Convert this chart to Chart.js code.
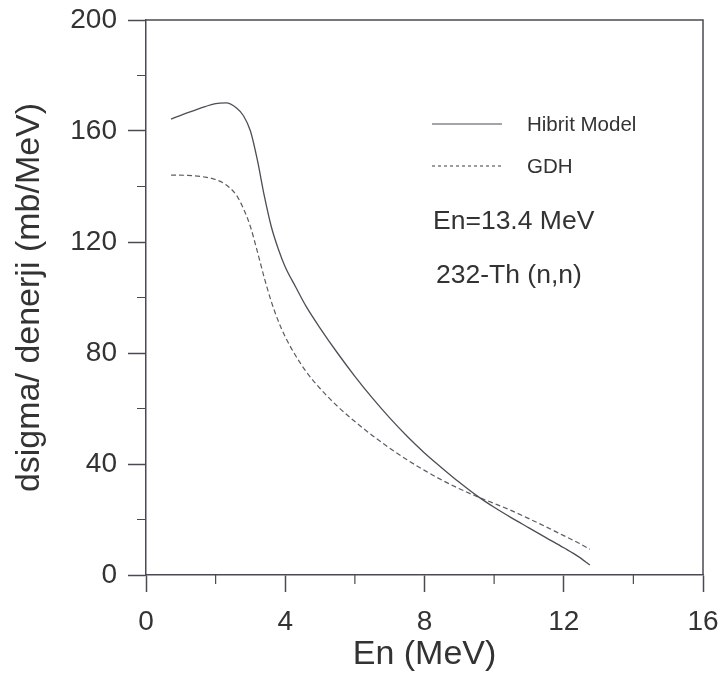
<!DOCTYPE html>
<html>
<head>
<meta charset="utf-8">
<title>232-Th (n,n) — dsigma/denerji</title>
<script src="https://cdn.jsdelivr.net/npm/chart.js@4.4.1/dist/chart.umd.min.js"></script>
<style>
  html, body { margin: 0; padding: 0; background: #ffffff; }
  #wrap { width: 723px; height: 678px; position: relative; }
  canvas { display: block; }
</style>
</head>
<body>
<div id="wrap"><canvas id="c" width="723" height="678"></canvas></div>
<script>
// Emission energy grid (MeV)
const energies = [0.72, 1.2, 1.7, 2.0, 2.3, 2.6, 2.8, 3.0, 3.2, 3.4, 3.6, 3.8, 4.0, 4.3, 4.6, 5.0, 5.5,
                  6.0, 6.5, 7.0, 7.5, 8.0, 8.5, 9.0, 9.5, 10.0, 10.5, 11.0, 11.5, 12.0, 12.4, 12.75];

// Hibrit Model spectrum (mb/MeV)
const hibritModel = [164.3, 166.6, 168.8, 169.9, 170.1, 168.3, 165.5, 160.0, 149.5, 136.5, 125.5, 117.5, 111.0, 103.8, 96.8, 89.0, 80.0,
                     71.6, 63.8, 56.6, 50.0, 44.0, 38.6, 33.4, 28.6, 24.4, 20.6, 17.0, 13.4, 9.8, 6.8, 3.6];

// GDH spectrum (mb/MeV)
const gdh = [144.1, 144.0, 143.4, 142.5, 140.6, 136.8, 132.0, 125.5, 116.5, 107.0, 98.5, 91.5, 85.8, 79.0, 73.3, 67.2, 60.8,
             55.3, 50.3, 45.7, 41.5, 37.7, 34.2, 31.1, 28.3, 25.8, 23.2, 20.3, 17.3, 14.2, 11.7, 9.3];

// Axis ticks
const xTicks = [0, 4, 8, 12, 16];
const yTicks = [0, 40, 80, 120, 160, 200];

// Notes printed inside the plot
const noteLines = ['En=13.4 MeV', '232-Th (n,n)'];

const FONT = '"Liberation Sans", Arial, Helvetica, sans-serif';
const AXIS = '#4a4a52';
const INK = '#333333';

const toPoints = (xs, ys) => xs.map((x, i) => ({ x: x, y: ys[i] }));

// Minor ticks halfway between the labelled ones, plus the top and right frame lines
const framePlugin = {
  id: 'frame',
  afterDraw(chart) {
    const { ctx, chartArea: a, scales } = chart;
    ctx.save();
    ctx.strokeStyle = AXIS;
    ctx.lineWidth = 1.5;
    ctx.beginPath();
    ctx.moveTo(a.left, a.top);
    ctx.lineTo(a.right, a.top);
    ctx.lineTo(a.right, a.bottom);
    ctx.stroke();

    ctx.lineWidth = 1.2;
    ctx.beginPath();
    for (let i = 0; i < xTicks.length - 1; i++) {
      const px = scales.x.getPixelForValue((xTicks[i] + xTicks[i + 1]) / 2);
      ctx.moveTo(px, a.bottom);
      ctx.lineTo(px, a.bottom + 9);
    }
    for (let i = 0; i < yTicks.length - 1; i++) {
      const py = scales.y.getPixelForValue((yTicks[i] + yTicks[i + 1]) / 2);
      ctx.moveTo(a.left, py);
      ctx.lineTo(a.left - 9, py);
    }
    ctx.stroke();
    ctx.restore();
  }
};

// Legend samples and the reaction notes
const notesPlugin = {
  id: 'notes',
  afterDatasetsDraw(chart) {
    const { ctx, chartArea: a } = chart;
    ctx.save();
    const x0 = a.left + 286, x1 = a.left + 356, tx = a.left + 381;
    const rows = [a.top + 104, a.top + 146];
    chart.data.datasets.forEach((ds, i) => {
      ctx.strokeStyle = ds.borderColor;
      ctx.lineWidth = 1.2;
      ctx.setLineDash(ds.legendDash || []);
      ctx.beginPath();
      ctx.moveTo(x0, rows[i]);
      ctx.lineTo(x1, rows[i]);
      ctx.stroke();
      ctx.setLineDash([]);
      ctx.fillStyle = INK;
      ctx.font = '20.5px ' + FONT;
      ctx.textAlign = 'left';
      ctx.textBaseline = 'middle';
      ctx.fillText(ds.label, tx, rows[i] + 1);
    });
    ctx.font = '26.5px ' + FONT;
    ctx.fillText(noteLines[0], a.left + 287, a.top + 202);
    ctx.fillText(noteLines[1], a.left + 290, a.top + 256);
    ctx.restore();
  }
};

// Keep the plot box fixed: the overhanging end labels must not shrink it
function fixScale(size) {
  return function (scale) {
    if (scale.isHorizontal()) scale.height = size; else scale.width = size;
    scale.paddingTop = 0;
    scale.paddingBottom = 0;
    scale.paddingLeft = 0;
    scale.paddingRight = 0;
  };
}

new Chart(document.getElementById('c'), {
  type: 'line',
  data: {
    datasets: [
      {
        label: 'Hibrit Model',
        data: toPoints(energies, hibritModel),
        borderColor: '#4d4d55',
        borderWidth: 1.3,
        pointRadius: 0,
        fill: false,
        cubicInterpolationMode: 'monotone'
      },
      {
        label: 'GDH',
        data: toPoints(energies, gdh),
        borderColor: '#5c5c66',
        borderWidth: 1.2,
        borderDash: [5, 3],
        legendDash: [3, 3],
        pointRadius: 0,
        fill: false,
        cubicInterpolationMode: 'monotone'
      }
    ]
  },
  options: {
    responsive: false,
    animation: false,
    devicePixelRatio: 1,
    layout: { padding: { top: 20, right: 20, left: 0, bottom: 0 } },
    plugins: { legend: { display: false }, tooltip: { enabled: false } },
    scales: {
      x: {
        type: 'linear',
        min: 0, max: 16,
        afterFit: fixScale(103),
        afterBuildTicks(scale) { scale.ticks = xTicks.map(v => ({ value: v })); },
        ticks: {
          color: INK,
          font: { family: FONT, size: 28 },
          padding: 13,
          maxRotation: 0,
          callback: v => String(v)
        },
        grid: { drawOnChartArea: false, drawTicks: true, tickLength: 17, color: AXIS, tickWidth: 1.5 },
        border: { display: true, color: AXIS, width: 1.5 },
        title: {
          display: true,
          text: 'En (MeV)',
          color: INK,
          font: { family: FONT, size: 34 },
          padding: { top: 0, bottom: 3 }
        }
      },
      y: {
        type: 'linear',
        min: 0, max: 200,
        afterFit: fixScale(146),
        afterBuildTicks(scale) { scale.ticks = yTicks.map(v => ({ value: v })); },
        ticks: {
          color: INK,
          font: { family: FONT, size: 28 },
          padding: 11,
          callback: v => String(v)
        },
        grid: { drawOnChartArea: false, drawTicks: true, tickLength: 18, color: AXIS, tickWidth: 1.5 },
        border: { display: true, color: AXIS, width: 1.5 },
        title: {
          display: true,
          text: 'dsigma/ denerji (mb/MeV)',
          color: INK,
          font: { family: FONT, size: 34 },
          padding: { top: 9, bottom: 0 }
        }
      }
    }
  },
  plugins: [framePlugin, notesPlugin]
});
</script>
</body>
</html>
